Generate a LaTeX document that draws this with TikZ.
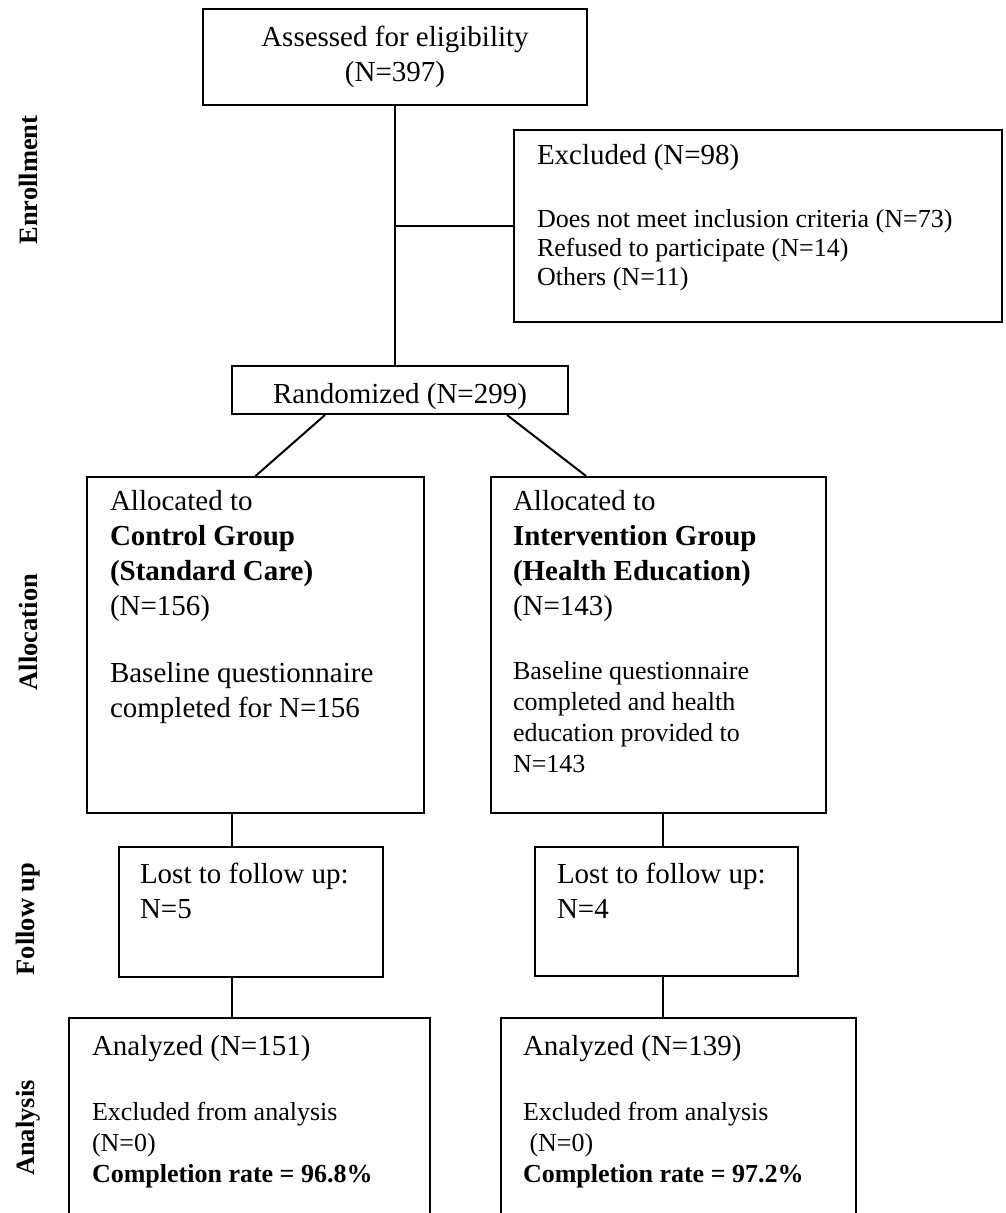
\documentclass[tikz,border=0pt]{standalone}
\usepackage{fontspec}
\setmainfont{Liberation Serif}
\usetikzlibrary{positioning,fit,calc}

\begin{document}
\begin{tikzpicture}[
  x=0.5pt, y=-0.5pt,
  line width=1pt,
  box/.style={draw, line width=1pt, inner sep=0pt},
  big/.style={font=\fontsize{14.5}{17.5}\selectfont, inner sep=0pt, align=left, anchor=base west},
  small/.style={font=\fontsize{13}{15.5}\selectfont, inner sep=0pt, align=left, anchor=base west},
  tight/.style={font=\fontsize{13}{14.5}\selectfont, inner sep=0pt, align=left, anchor=base west},
  phase/.style={font=\fontsize{13.25}{16}\selectfont\bfseries, rotate=90, inner sep=0pt},
]
\useasboundingbox (0,0) rectangle (1005,1213);

% ---- boxes (pixel grid of the page) ----
\node[box, fit={(203,9) (587,105)}] (assess) {};
\node[box, fit={(514,130) (1002,322)}] (excl) {};
\node[box, fit={(232,366) (568,414)}] (rand) {};
\node[box, fit={(87,477) (424,813)}] (ctrl) {};
\node[box, fit={(491,477) (826,813)}] (interv) {};
\node[box, fit={(119,847) (383,977)}] (lostC) {};
\node[box, fit={(535,847) (798,976)}] (lostI) {};
\node[box, fit={(69,1018) (430,1250)}] (anaC) {};
\node[box, fit={(501,1018) (856,1250)}] (anaI) {};

% ---- phase captions ----
\node[phase] (enrol) at (28,180) {Enrollment};
\node[phase] (alloc) at (28,632) {Allocation};
\node[phase] (follow) at (28,919) {Follow up};
\node[phase] (analys) at (28,1128) {Analysis};

% ---- texts (base = last line) ----
\node[big, align=center, anchor=center] (assesstxt) at (assess.center)
  {Assessed for eligibility\\(N=397)};
\node[big] (excltitle) at (536,165) {Excluded (N=98)};
\node[tight] (excllist) at (536,286)
  {Does not meet inclusion criteria (N=73)\\Refused to participate (N=14)\\Others (N=11)};
\node[big, anchor=base] (randtxt) at (400,403) {Randomized (N=299)};

\node[big] (ctrlhead) at (109,615)
  {Allocated to\\\textbf{Control Group}\\\textbf{(Standard Care)}\\(N=156)};
\node[big] (ctrlbody) at (109,717) {Baseline questionnaire\\completed for N=156};
\node[big] (intervhead) at (512,615)
  {Allocated to\\\textbf{Intervention Group}\\\textbf{(Health Education)}\\(N=143)};
\node[small] (intervbody) at (512,772)
  {Baseline questionnaire\\completed and health\\education provided to\\N=143};

\node[big] (lostCtxt) at (139,918) {Lost to follow up:\\N=5};
\node[big] (lostItxt) at (556,918) {Lost to follow up:\\N=4};

\node[big] (anaCtitle) at (91,1055) {Analyzed (N=151)};
\node[small] (anaCbody) at (91,1182)
  {Excluded from analysis\\(N=0)\\\textbf{Completion rate = 96.8\%}};
\node[big] (anaItitle) at (522,1055) {Analyzed (N=139)};
\node[small] (anaIbody) at (522,1182)
  {Excluded from analysis\\\ (N=0)\\\textbf{Completion rate = 97.2\%}};

% ---- connectors ----
\coordinate (colC) at (232,0);
\coordinate (colI) at (663,0);
\draw (assess.south) -- (assess.south |- rand.north);
\draw (assess.south |- excl.west) -- (excl.west);
\draw ($(rand.south)+(-75,0)$) -- (ctrl.north);
\draw ($(rand.south)+(107,0)$) -- ($(interv.north west)+(96,0)$);
\draw (ctrl.south -| colC) -- (lostC.north -| colC);
\draw (lostC.south -| colC) -- (anaC.north -| colC);
\draw (interv.south -| colI) -- (lostI.north -| colI);
\draw (lostI.south -| colI) -- (anaI.north -| colI);
\end{tikzpicture}
\end{document}
